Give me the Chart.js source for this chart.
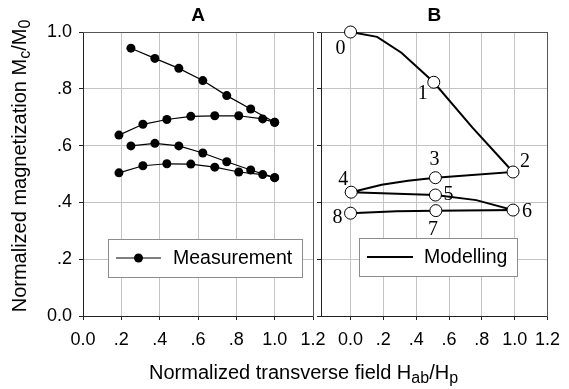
<!DOCTYPE html>
<html>
<head>
<meta charset="utf-8">
<title>Normalized magnetization</title>
<script src="https://cdn.jsdelivr.net/npm/chart.js@4.4.1/dist/chart.umd.min.js"></script>
<style>
  body { margin: 0; background: #fff; }
  #wrap { position: relative; width: 569px; height: 389px; overflow: hidden; font-family: "Liberation Sans", Arial, sans-serif; color: #000; }
  #wrap canvas { position: absolute; left: 0; top: 0; }
  .axis-title { position: absolute; font-size: 20px; line-height: 24px; white-space: nowrap; }
  .axis-title sub { font-size: 16px; vertical-align: -4px; line-height: 0; }
  #ytitle { left: -146px; top: 154px; width: 330px; height: 24px; text-align: center; transform: rotate(-90deg); }
  #xtitle { left: 149px; top: 360px; }
</style>
</head>
<body>
<div id="wrap">
  <canvas id="chartA" width="569" height="389"></canvas>
  <canvas id="chartB" width="569" height="389"></canvas>
  <div class="axis-title" id="ytitle">Normalized magnetization M<sub>c</sub>/M<sub>0</sub></div>
  <div class="axis-title" id="xtitle">Normalized transverse field H<sub>ab</sub>/H<sub>p</sub></div>
</div>
<script>
var yTicks = [0, 0.2, 0.4, 0.6, 0.8, 1.0];
var yTickLabels = ['0.0', '.2', '.4', '.6', '.8', '1.0'];
var xTicks = [0, 0.2, 0.4, 0.6, 0.8, 1.0, 1.2];
var xTickLabels = ['0.0', '.2', '.4', '.6', '.8', '1.0', '1.2'];

// panel A - measurement, two x grids
var measXa = [0.25, 0.375, 0.5, 0.625, 0.75, 0.875, 1.0];
var measXb = [0.1875, 0.3125, 0.4375, 0.5625, 0.6875, 0.8125, 0.9375, 1.0];
var meas1 = [0.943, 0.907, 0.872, 0.829, 0.776, 0.729, 0.682];
var meas2 = [0.637, 0.675, 0.692, 0.703, 0.705, 0.705, 0.694, 0.682];
var meas3 = [0.599, 0.608, 0.599, 0.574, 0.543, 0.514, 0.487];
var meas4 = [0.504, 0.529, 0.536, 0.535, 0.524, 0.507, 0.498, 0.487];

// panel B - modelling path 0 -> 8 and the numbered states on it
var modelX = [0, 0.162, 0.31, 0.507, 0.743, 0.99, 0.517, 0.35, 0.19, 0.004, 0.517, 0.766, 0.99, 0.52, 0.28, 0];
var modelY = [1.0, 0.983, 0.927, 0.823, 0.663, 0.507, 0.487, 0.476, 0.462, 0.436, 0.426, 0.408, 0.373, 0.371, 0.369, 0.362];
var stateX = [0, 0.507, 0.99, 0.517, 0.004, 0.517, 0.99, 0.52, 0];
var stateY = [1.0, 0.823, 0.507, 0.487, 0.436, 0.426, 0.373, 0.371, 0.362];
var stateNames = ['0', '1', '2', '3', '4', '5', '6', '7', '8'];

var font = '"Liberation Sans", Arial, sans-serif';
var gridColor = '#c4c4c4';
var axisColor = '#222';
var frameColor = '#555';

function pairs(xs, ys) {
    return ys.map(function(y, i) {
        return { x: xs[i], y: y };
    });
}

function setTicks(values) {
    return function(scale) {
        scale.ticks = values.map(function(v) { return { value: v }; });
    };
}

function makeScales(xMin, yWidth, yLabels) {
    return {
        x: {
            type: 'linear', min: xMin, max: 1.2,
            afterBuildTicks: setTicks(xTicks),
            afterFit: function(s) { s.height = 73; },
            ticks: {
                autoSkip: false, maxRotation: 0, padding: 9, color: '#000',
                font: { family: font, size: 18 },
                callback: function(v, i) { return xTickLabels[i]; }
            },
            grid: { color: gridColor, tickColor: axisColor, tickLength: 4 },
            border: { color: axisColor }
        },
        y: {
            type: 'linear', min: 0, max: 1.0,
            afterBuildTicks: setTicks(yTicks),
            afterFit: function(s) { s.width = yWidth; },
            ticks: {
                display: yLabels, padding: 7, color: '#000',
                font: { family: font, size: 18 },
                callback: function(v, i) { return yTickLabels[i]; }
            },
            grid: { color: gridColor, tickColor: axisColor, tickLength: 4 },
            border: { color: axisColor }
        },
        xTop: {
            type: 'linear', position: 'top', min: 0, max: 1,
            afterFit: function(s) { s.height = 0; },
            ticks: { display: false },
            grid: { drawOnChartArea: false, drawTicks: false },
            border: { color: frameColor }
        },
        yRight: {
            type: 'linear', position: 'right', min: 0, max: 1,
            afterFit: function(s) { s.width = 0; },
            ticks: { display: false },
            grid: { drawOnChartArea: false, drawTicks: false },
            border: { color: frameColor }
        }
    };
}

// boxed legend inside the plot area
var boxLegend = {
    id: 'boxLegend',
    afterDatasetsDraw: function(chart, args, o) {
        var ds = chart.data.datasets[o.datasetIndex];
        var ctx = chart.ctx;
        var cy = o.top + o.height / 2;
        ctx.save();
        ctx.fillStyle = '#fff';
        ctx.fillRect(o.left, o.top, o.width, o.height);
        ctx.strokeStyle = '#8c8c8c';
        ctx.lineWidth = 1;
        ctx.strokeRect(o.left + 0.5, o.top + 0.5, o.width, o.height);
        ctx.strokeStyle = ds.borderColor;
        ctx.lineWidth = ds.borderWidth;
        ctx.beginPath();
        ctx.moveTo(o.left + o.lineStart, cy);
        ctx.lineTo(o.left + o.lineEnd, cy);
        ctx.stroke();
        if (o.dot) {
            ctx.fillStyle = ds.pointBackgroundColor;
            ctx.beginPath();
            ctx.arc(o.left + (o.lineStart + o.lineEnd) / 2, cy, ds.pointRadius, 0, Math.PI * 2);
            ctx.fill();
        }
        ctx.fillStyle = '#000';
        ctx.font = '19.5px ' + font;
        ctx.textBaseline = 'middle';
        ctx.fillText(ds.label, o.left + o.textStart, cy + 1);
        ctx.restore();
    }
};

// numbers next to the modelled states
var stateLabels = {
    id: 'stateLabels',
    afterDatasetsDraw: function(chart, args, o) {
        var meta = chart.getDatasetMeta(o.datasetIndex);
        var ctx = chart.ctx;
        ctx.save();
        ctx.fillStyle = '#000';
        ctx.font = '20px "Liberation Serif", "Times New Roman", serif';
        ctx.textAlign = 'center';
        ctx.textBaseline = 'middle';
        meta.data.forEach(function(pt, i) {
            ctx.fillText(stateNames[i], pt.x + o.offsets[i][0], pt.y + o.offsets[i][1]);
        });
        ctx.restore();
    }
};

function titleOpts(text) {
    return {
        display: true, text: text, fullSize: false, color: '#000',
        font: { family: font, size: 19, weight: 'bold', lineHeight: 1.2 },
        padding: { top: 4, bottom: 5.2 }
    };
}

function measSet(xs, ys) {
    return {
        label: 'Measurement',
        data: pairs(xs, ys),
        borderColor: '#000', borderWidth: 1.2,
        pointRadius: 4.5, pointBackgroundColor: '#000', pointBorderWidth: 0,
        tension: 0, clip: false
    };
}

new Chart(document.getElementById('chartA'), {
    type: 'line',
    data: {
        datasets: [
            measSet(measXa, meas1),
            measSet(measXb, meas2),
            measSet(measXa, meas3),
            measSet(measXb, meas4)
        ]
    },
    options: {
        responsive: false, animation: false, events: [],
        layout: { padding: { left: 0, right: 256, top: 0, bottom: 0 } },
        scales: makeScales(0, 83, true),
        plugins: {
            legend: { display: false },
            tooltip: { enabled: false },
            title: titleOpts('A'),
            boxLegend: { datasetIndex: 0, left: 108, top: 239, width: 194, height: 38, lineStart: 8, lineEnd: 53, textStart: 65, dot: true }
        }
    },
    plugins: [boxLegend]
});

new Chart(document.getElementById('chartB'), {
    type: 'line',
    data: {
        datasets: [{
            label: 'Modelling',
            data: pairs(modelX, modelY),
            borderColor: '#000', borderWidth: 2,
            pointRadius: 0, tension: 0, clip: false, order: 1
        }, {
            label: 'States',
            data: pairs(stateX, stateY),
            showLine: false,
            pointRadius: 6, pointBackgroundColor: '#fff', pointBorderColor: '#000', pointBorderWidth: 1,
            clip: false, order: 0
        }]
    },
    options: {
        responsive: false, animation: false, events: [],
        layout: { padding: { left: 317, right: 15, top: 0, bottom: 0 } },
        scales: makeScales(-0.18, 4, false),
        plugins: {
            legend: { display: false },
            tooltip: { enabled: false },
            title: titleOpts('B'),
            boxLegend: { datasetIndex: 0, left: 359, top: 238, width: 158, height: 38, lineStart: 8, lineEnd: 54, textStart: 65, dot: false },
            stateLabels: {
                datasetIndex: 1,
                offsets: [[-10, 17], [-11, 11], [12, -10], [-1, -18], [-8, -12], [13, 0], [14, 2], [-3, 19], [-13, 5]]
            }
        }
    },
    plugins: [boxLegend, stateLabels]
});
</script>
</body>
</html>
